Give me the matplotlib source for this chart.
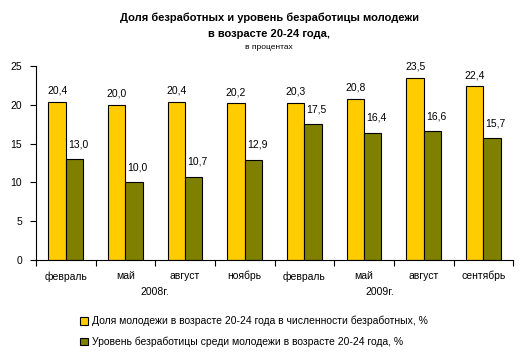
import matplotlib
matplotlib.use("Agg")
import matplotlib.pyplot as plt
import numpy as np

plt.rcParams['font.family'] = ['Liberation Sans', 'DejaVu Sans']

months = ["февраль", "май", "август", "ноябрь", "февраль", "май", "август", "сентябрь"]
share = [20.4, 20.0, 20.4, 20.2, 20.3, 20.8, 23.5, 22.4]
rate = [13.0, 10.0, 10.7, 12.9, 17.5, 16.4, 16.6, 15.7]
years = ["2008г.", "2009г."]
series_names = ["Доля молодежи в возрасте 20-24 года в численности безработных, %",
                "Уровень безработицы среди молодежи в возрасте 20-24 года, %"]
yticks = [0, 5, 10, 15, 20, 25]

fig = plt.figure(figsize=(5.28, 3.59), dpi=100)
ax = fig.add_axes([0.068, 0.276, 0.904, 0.54])

x = np.arange(len(months))
w = 0.29
b1 = ax.bar(x - w/2, share, w, color="#FFCC00", edgecolor="black", linewidth=0.8)
b2 = ax.bar(x + w/2, rate, w, color="#808000", edgecolor="black", linewidth=0.8)

for xi, v in zip(x, share):
    ax.text(xi - w/2, v + 0.8, f"{v:.1f}".replace(".", ","), ha="center", va="bottom", fontsize=7.5)
for xi, v in zip(x, rate):
    ax.text(xi + w/2 + 0.06, v + 1.3, f"{v:.1f}".replace(".", ","), ha="center", va="bottom", fontsize=7.5)

ax.set_xlim(-0.5, len(months) - 0.5)
ax.set_ylim(0, 25)
ax.set_yticks(yticks)
ax.set_yticklabels([str(t) for t in yticks], fontsize=7.5)
ax.set_xticks(np.arange(len(months) + 1) - 0.5)
ax.set_xticklabels([])
ax.set_xticks(x, minor=True)
ax.set_xticklabels(months, minor=True, fontsize=7.5)
ax.tick_params(axis="x", which="minor", length=0, pad=8)
ax.tick_params(axis="x", which="major", length=4, direction="out", width=0.8)
ax.tick_params(axis="y", length=4, direction="out", width=0.8, pad=6)
for s in ["top", "right"]:
    ax.spines[s].set_visible(False)
for s in ["left", "bottom"]:
    ax.spines[s].set_linewidth(0.8)

ax.text(1.5, -4.1, years[0], ha="center", va="center", fontsize=7.5, clip_on=False)
ax.text(5.27, -4.1, years[1], ha="center", va="center", fontsize=7.5, clip_on=False)

fig.text(0.51, 0.95, "Доля безработных и уровень безработицы молодежи", ha="center", va="center",
         fontsize=8, fontweight="bold")
fig.text(0.51, 0.906, "в возрасте 20-24 года,", ha="center", va="center", fontsize=8, fontweight="bold")
fig.text(0.51, 0.868, "в процентах", ha="center", va="center", fontsize=6)

leg = fig.legend([b1, b2], series_names, loc="upper left", bbox_to_anchor=(0.152, 0.12),
                 frameon=False, fontsize=7.5, handlelength=0.75, handleheight=0.75,
                 handletextpad=0.4, labelspacing=1.0, borderpad=0, borderaxespad=0)

fig.savefig("out.png", dpi=100)
